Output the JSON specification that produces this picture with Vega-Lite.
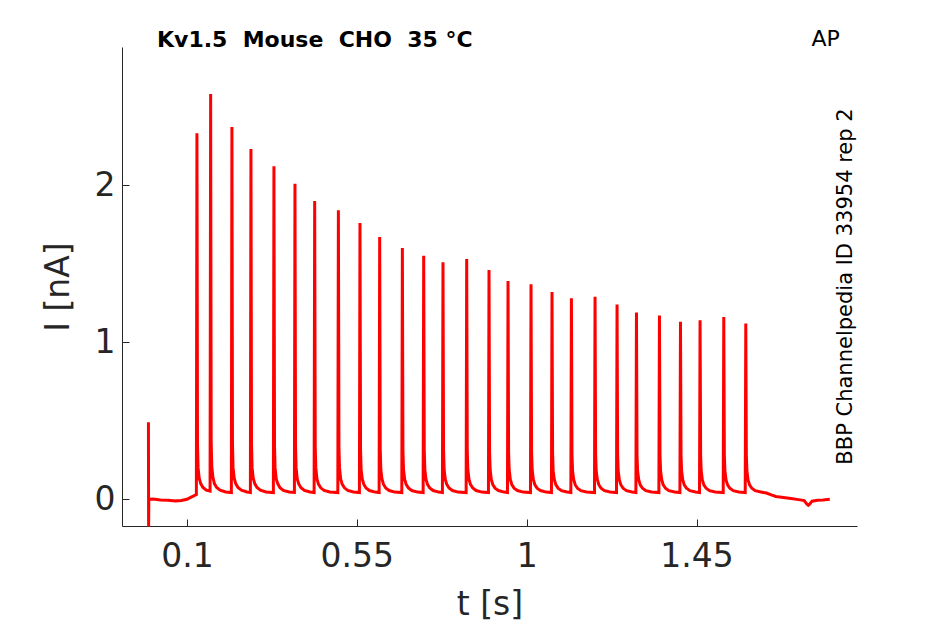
{
  "$schema": "https://vega.github.io/schema/vega-lite/v6.json",
  "width": 735,
  "height": 479,
  "autosize": {"type": "none"},
  "padding": {"left": 122, "top": 47, "right": 88, "bottom": 98},
  "background": "white",
  "config": {
    "view": {"stroke": null},
    "font": "DejaVu Sans",
    "axis": {
      "grid": false,
      "domainColor": "#262626",
      "tickColor": "#262626",
      "labelColor": "#262626",
      "titleColor": "#262626",
      "labelFont": "DejaVu Sans",
      "titleFont": "DejaVu Sans",
      "labelFontSize": 33,
      "titleFontSize": 33,
      "titleFontWeight": "normal",
      "labelFontWeight": "normal",
      "tickSize": -7,
      "domainWidth": 1,
      "tickWidth": 1
    }
  },
  "title": {
    "text": "Kv1.5\u00a0 Mouse\u00a0 CHO\u00a0 35 °C",
    "anchor": "start",
    "frame": "group",
    "dx": 35,
    "dy": 41,
    "offset": 0.5,
    "baseline": "alphabetic",
    "font": "DejaVu Sans",
    "fontSize": 22,
    "fontWeight": "bold",
    "color": "black"
  },
  "layer": [
    {
      "data": {
        "values": [
          {"t": -0.002, "I": 0.49},
          {"t": -0.0015, "I": -0.175},
          {"t": -0.001, "I": 0.0},
          {"t": 0.01, "I": 0.002},
          {"t": 0.03, "I": -0.004},
          {"t": 0.05, "I": -0.006},
          {"t": 0.07, "I": -0.01},
          {"t": 0.085, "I": -0.008},
          {"t": 0.1, "I": 0.0},
          {"t": 0.11, "I": 0.012},
          {"t": 0.118, "I": 0.022},
          {"t": 0.125, "I": 0.03},
          {"t": 0.1265, "I": 2.33},
          {"t": 0.128, "I": 0.35},
          {"t": 0.1295, "I": 0.2},
          {"t": 0.1325, "I": 0.135},
          {"t": 0.1365, "I": 0.1},
          {"t": 0.1425, "I": 0.075},
          {"t": 0.1513, "I": 0.058},
          {"t": 0.1613, "I": 0.052},
          {"t": 0.1628, "I": 2.58},
          {"t": 0.1643, "I": 0.36},
          {"t": 0.1658, "I": 0.21},
          {"t": 0.1688, "I": 0.14},
          {"t": 0.1728, "I": 0.1},
          {"t": 0.1788, "I": 0.075},
          {"t": 0.1878, "I": 0.058},
          {"t": 0.2028, "I": 0.047},
          {"t": 0.2177, "I": 0.043},
          {"t": 0.2192, "I": 2.37},
          {"t": 0.2207, "I": 0.35},
          {"t": 0.2222, "I": 0.2},
          {"t": 0.2252, "I": 0.135},
          {"t": 0.2292, "I": 0.1},
          {"t": 0.2352, "I": 0.075},
          {"t": 0.2442, "I": 0.058},
          {"t": 0.2592, "I": 0.047},
          {"t": 0.2681, "I": 0.043},
          {"t": 0.2696, "I": 2.23},
          {"t": 0.2711, "I": 0.35},
          {"t": 0.2726, "I": 0.2},
          {"t": 0.2756, "I": 0.135},
          {"t": 0.2796, "I": 0.1},
          {"t": 0.2856, "I": 0.075},
          {"t": 0.2946, "I": 0.058},
          {"t": 0.3096, "I": 0.047},
          {"t": 0.329, "I": 0.043},
          {"t": 0.3305, "I": 2.12},
          {"t": 0.332, "I": 0.34},
          {"t": 0.3335, "I": 0.2},
          {"t": 0.3365, "I": 0.13},
          {"t": 0.3405, "I": 0.1},
          {"t": 0.3465, "I": 0.074},
          {"t": 0.3555, "I": 0.057},
          {"t": 0.3705, "I": 0.047},
          {"t": 0.3847, "I": 0.044},
          {"t": 0.3862, "I": 2.01},
          {"t": 0.3877, "I": 0.34},
          {"t": 0.3892, "I": 0.2},
          {"t": 0.3922, "I": 0.13},
          {"t": 0.3962, "I": 0.098},
          {"t": 0.4022, "I": 0.074},
          {"t": 0.4112, "I": 0.057},
          {"t": 0.4262, "I": 0.047},
          {"t": 0.4369, "I": 0.043},
          {"t": 0.4384, "I": 1.9},
          {"t": 0.4399, "I": 0.33},
          {"t": 0.4414, "I": 0.2},
          {"t": 0.4444, "I": 0.13},
          {"t": 0.4484, "I": 0.097},
          {"t": 0.4544, "I": 0.073},
          {"t": 0.4634, "I": 0.057},
          {"t": 0.4784, "I": 0.047},
          {"t": 0.4997, "I": 0.043},
          {"t": 0.5012, "I": 1.84},
          {"t": 0.5027, "I": 0.33},
          {"t": 0.5042, "I": 0.2},
          {"t": 0.5072, "I": 0.13},
          {"t": 0.5112, "I": 0.097},
          {"t": 0.5172, "I": 0.073},
          {"t": 0.5262, "I": 0.057},
          {"t": 0.5412, "I": 0.047},
          {"t": 0.5569, "I": 0.043},
          {"t": 0.5584, "I": 1.76},
          {"t": 0.5599, "I": 0.32},
          {"t": 0.5614, "I": 0.19},
          {"t": 0.5644, "I": 0.13},
          {"t": 0.5684, "I": 0.096},
          {"t": 0.5744, "I": 0.072},
          {"t": 0.5834, "I": 0.056},
          {"t": 0.5984, "I": 0.046},
          {"t": 0.6091, "I": 0.043},
          {"t": 0.6106, "I": 1.67},
          {"t": 0.6121, "I": 0.32},
          {"t": 0.6136, "I": 0.19},
          {"t": 0.6166, "I": 0.13},
          {"t": 0.6206, "I": 0.096},
          {"t": 0.6266, "I": 0.072},
          {"t": 0.6356, "I": 0.056},
          {"t": 0.6506, "I": 0.046},
          {"t": 0.6692, "I": 0.043},
          {"t": 0.6707, "I": 1.6},
          {"t": 0.6722, "I": 0.31},
          {"t": 0.6737, "I": 0.19},
          {"t": 0.6767, "I": 0.128},
          {"t": 0.6807, "I": 0.095},
          {"t": 0.6867, "I": 0.072},
          {"t": 0.6957, "I": 0.056},
          {"t": 0.7107, "I": 0.046},
          {"t": 0.7257, "I": 0.043},
          {"t": 0.7272, "I": 1.55},
          {"t": 0.7287, "I": 0.31},
          {"t": 0.7302, "I": 0.19},
          {"t": 0.7332, "I": 0.128},
          {"t": 0.7372, "I": 0.095},
          {"t": 0.7432, "I": 0.072},
          {"t": 0.7522, "I": 0.056},
          {"t": 0.7672, "I": 0.046},
          {"t": 0.7768, "I": 0.043},
          {"t": 0.7783, "I": 1.51},
          {"t": 0.7798, "I": 0.31},
          {"t": 0.7813, "I": 0.19},
          {"t": 0.7843, "I": 0.128},
          {"t": 0.7883, "I": 0.095},
          {"t": 0.7943, "I": 0.072},
          {"t": 0.8033, "I": 0.056},
          {"t": 0.8183, "I": 0.046},
          {"t": 0.8396, "I": 0.043},
          {"t": 0.8411, "I": 1.53},
          {"t": 0.8426, "I": 0.31},
          {"t": 0.8441, "I": 0.19},
          {"t": 0.8471, "I": 0.128},
          {"t": 0.8511, "I": 0.095},
          {"t": 0.8571, "I": 0.072},
          {"t": 0.8661, "I": 0.056},
          {"t": 0.8811, "I": 0.046},
          {"t": 0.8987, "I": 0.043},
          {"t": 0.9002, "I": 1.46},
          {"t": 0.9017, "I": 0.3},
          {"t": 0.9032, "I": 0.19},
          {"t": 0.9062, "I": 0.127},
          {"t": 0.9102, "I": 0.094},
          {"t": 0.9162, "I": 0.071},
          {"t": 0.9252, "I": 0.056},
          {"t": 0.9402, "I": 0.046},
          {"t": 0.9491, "I": 0.043},
          {"t": 0.9506, "I": 1.39},
          {"t": 0.9521, "I": 0.3},
          {"t": 0.9536, "I": 0.19},
          {"t": 0.9566, "I": 0.127},
          {"t": 0.9606, "I": 0.094},
          {"t": 0.9666, "I": 0.071},
          {"t": 0.9756, "I": 0.056},
          {"t": 0.9906, "I": 0.046},
          {"t": 1.01, "I": 0.043},
          {"t": 1.0115, "I": 1.37},
          {"t": 1.013, "I": 0.3},
          {"t": 1.0145, "I": 0.19},
          {"t": 1.0175, "I": 0.127},
          {"t": 1.0215, "I": 0.094},
          {"t": 1.0275, "I": 0.071},
          {"t": 1.0365, "I": 0.056},
          {"t": 1.0515, "I": 0.046},
          {"t": 1.0656, "I": 0.043},
          {"t": 1.0671, "I": 1.32},
          {"t": 1.0686, "I": 0.3},
          {"t": 1.0701, "I": 0.18},
          {"t": 1.0731, "I": 0.126},
          {"t": 1.0771, "I": 0.094},
          {"t": 1.0831, "I": 0.071},
          {"t": 1.0921, "I": 0.055},
          {"t": 1.1071, "I": 0.046},
          {"t": 1.117, "I": 0.043},
          {"t": 1.1185, "I": 1.28},
          {"t": 1.12, "I": 0.29},
          {"t": 1.1215, "I": 0.18},
          {"t": 1.1245, "I": 0.126},
          {"t": 1.1285, "I": 0.093},
          {"t": 1.1345, "I": 0.07},
          {"t": 1.1435, "I": 0.055},
          {"t": 1.1585, "I": 0.046},
          {"t": 1.1796, "I": 0.043},
          {"t": 1.1811, "I": 1.29},
          {"t": 1.1826, "I": 0.29},
          {"t": 1.1841, "I": 0.18},
          {"t": 1.1871, "I": 0.126},
          {"t": 1.1911, "I": 0.093},
          {"t": 1.1971, "I": 0.07},
          {"t": 1.2061, "I": 0.055},
          {"t": 1.2211, "I": 0.046},
          {"t": 1.2379, "I": 0.043},
          {"t": 1.2394, "I": 1.24},
          {"t": 1.2409, "I": 0.29},
          {"t": 1.2424, "I": 0.18},
          {"t": 1.2454, "I": 0.125},
          {"t": 1.2494, "I": 0.093},
          {"t": 1.2554, "I": 0.07},
          {"t": 1.2644, "I": 0.055},
          {"t": 1.2794, "I": 0.046},
          {"t": 1.2893, "I": 0.043},
          {"t": 1.2908, "I": 1.19},
          {"t": 1.2923, "I": 0.28},
          {"t": 1.2938, "I": 0.18},
          {"t": 1.2968, "I": 0.125},
          {"t": 1.3008, "I": 0.092},
          {"t": 1.3068, "I": 0.07},
          {"t": 1.3158, "I": 0.055},
          {"t": 1.3308, "I": 0.046},
          {"t": 1.3502, "I": 0.043},
          {"t": 1.3517, "I": 1.17},
          {"t": 1.3532, "I": 0.28},
          {"t": 1.3547, "I": 0.18},
          {"t": 1.3577, "I": 0.125},
          {"t": 1.3617, "I": 0.092},
          {"t": 1.3677, "I": 0.07},
          {"t": 1.3767, "I": 0.055},
          {"t": 1.3917, "I": 0.046},
          {"t": 1.4059, "I": 0.043},
          {"t": 1.4074, "I": 1.13},
          {"t": 1.4089, "I": 0.28},
          {"t": 1.4104, "I": 0.18},
          {"t": 1.4134, "I": 0.124},
          {"t": 1.4174, "I": 0.092},
          {"t": 1.4234, "I": 0.07},
          {"t": 1.4324, "I": 0.055},
          {"t": 1.4474, "I": 0.046},
          {"t": 1.4578, "I": 0.043},
          {"t": 1.4593, "I": 1.14},
          {"t": 1.4608, "I": 0.28},
          {"t": 1.4623, "I": 0.18},
          {"t": 1.4653, "I": 0.124},
          {"t": 1.4693, "I": 0.092},
          {"t": 1.4753, "I": 0.07},
          {"t": 1.4843, "I": 0.055},
          {"t": 1.4993, "I": 0.046},
          {"t": 1.5206, "I": 0.043},
          {"t": 1.5221, "I": 1.16},
          {"t": 1.5236, "I": 0.28},
          {"t": 1.5251, "I": 0.18},
          {"t": 1.5281, "I": 0.124},
          {"t": 1.5321, "I": 0.092},
          {"t": 1.5381, "I": 0.07},
          {"t": 1.5471, "I": 0.055},
          {"t": 1.5621, "I": 0.046},
          {"t": 1.5789, "I": 0.043},
          {"t": 1.5804, "I": 1.12},
          {"t": 1.5819, "I": 0.28},
          {"t": 1.5834, "I": 0.18},
          {"t": 1.5864, "I": 0.124},
          {"t": 1.5904, "I": 0.092},
          {"t": 1.5964, "I": 0.07},
          {"t": 1.6054, "I": 0.055},
          {"t": 1.6204, "I": 0.046},
          {"t": 1.635, "I": 0.04},
          {"t": 1.648, "I": 0.028},
          {"t": 1.66, "I": 0.018},
          {"t": 1.68, "I": 0.012},
          {"t": 1.7, "I": 0.005},
          {"t": 1.72, "I": -0.002},
          {"t": 1.735, "I": -0.008},
          {"t": 1.742, "I": -0.03},
          {"t": 1.746, "I": -0.038},
          {"t": 1.75, "I": -0.03},
          {"t": 1.756, "I": -0.012},
          {"t": 1.77, "I": -0.006},
          {"t": 1.785, "I": -0.004},
          {"t": 1.803, "I": 0.0}
        ]
      },
      "mark": {"type": "line", "color": "#ff0000", "strokeWidth": 3, "clip": false, "strokeJoin": "miter"},
      "encoding": {
        "x": {
          "field": "t",
          "type": "quantitative",
          "sort": null,
          "scale": {"domain": [-0.072, 1.875], "nice": false, "zero": false},
          "axis": {"title": "t [s]", "values": [0.1, 0.55, 1, 1.45], "format": ".3~g", "labelPadding": 21, "titlePadding": 15, "labelFlush": false}
        },
        "y": {
          "field": "I",
          "type": "quantitative",
          "scale": {"domain": [-0.17, 2.88], "nice": false, "zero": false},
          "axis": {"title": "I [nA]", "values": [0, 1, 2], "format": ".3~g", "labelPadding": 14, "titlePadding": 19, "labelFlush": false}
        }
      }
    },
    {
      "data": {"values": [{"label": "AP"}]},
      "mark": {"type": "text", "align": "left", "baseline": "alphabetic", "fontSize": 22, "fontWeight": 400, "font": "DejaVu Sans", "fill": "black"},
      "encoding": {
        "x": {"datum": 1.7545, "type": "quantitative"},
        "y": {"datum": 2.884, "type": "quantitative"},
        "text": {"field": "label"}
      }
    },
    {
      "data": {"values": [{"label": "BBP Channelpedia ID 33954 rep 2"}]},
      "mark": {"type": "text", "align": "center", "baseline": "alphabetic", "angle": 270, "fontSize": 21, "fontWeight": 400, "font": "DejaVu Sans", "fill": "black"},
      "encoding": {
        "x": {"datum": 1.861, "type": "quantitative"},
        "y": {"datum": 1.355, "type": "quantitative"},
        "text": {"field": "label"}
      }
    }
  ]
}
